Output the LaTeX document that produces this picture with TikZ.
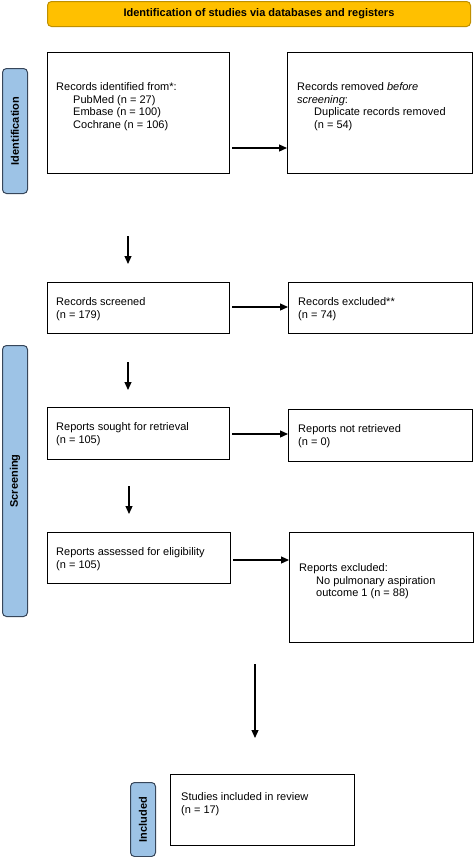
\documentclass[tikz,border=0pt]{standalone}
\usepackage{fontspec}
\setmainfont{Liberation Sans}
\usetikzlibrary{arrows.meta}
\definecolor{hdrfill}{RGB}{255,192,0}
\definecolor{hdrline}{RGB}{191,144,0}
\definecolor{labfill}{RGB}{157,195,230}
\definecolor{labline}{RGB}{55,70,90}
\tikzset{
  box/.style={draw=black, line width=1.1pt, inner sep=0pt, anchor=north west},
  txt/.style={inner sep=0pt, anchor=north west, align=left, font=\fontsize{11}{12.9}\selectfont},
  hdr/.style={draw=hdrline, fill=hdrfill, line width=1pt, rounded corners=4pt, inner sep=0pt, anchor=north west, font=\bfseries\fontsize{11}{13}\selectfont},
  lab/.style={draw=labline, fill=labfill, line width=1pt, rounded corners=4pt, inner sep=0pt, anchor=north west},
  labtxt/.style={rotate=90, font=\bfseries\fontsize{11}{13}\selectfont, inner sep=0pt},
  arr/.style={line width=1.2pt, -{Triangle[length=8pt,width=7pt]}}
}
\newcommand{\ind}{\hspace*{17pt}}
\begin{document}
\begin{tikzpicture}[x=1pt,y=-1pt]
\useasboundingbox (0,0) rectangle (474,857);
% header
\node[hdr, minimum width=423pt, minimum height=25pt] (hdr) at (47,1) {};
\node[font=\bfseries\fontsize{11}{13}\selectfont, inner sep=0pt] (hdrt) at (hdr.center) {Identification of studies via databases and registers};
% side labels
\node[lab, minimum width=25pt, minimum height=125pt] (lab1) at (2,68) {};
\node[labtxt] (lab1t) at (lab1.center) {Identification};
\node[lab, minimum width=25pt, minimum height=271pt] (lab2) at (2,345) {};
\node[labtxt] (lab2t) at (lab2.center) {Screening};
\node[lab, minimum width=25pt, minimum height=74pt] (lab3) at (130,782) {};
\node[labtxt] (lab3t) at (lab3.center) {Included};
% boxes
\node[box, minimum width=182pt, minimum height=121pt] (b1) at (47,52) {};
\node[box, minimum width=185pt, minimum height=121pt] (b2) at (287,52) {};
\node[box, minimum width=182pt, minimum height=51pt] (b3) at (47,282) {};
\node[box, minimum width=184pt, minimum height=51pt] (b4) at (288,282) {};
\node[box, minimum width=182pt, minimum height=52pt] (b5) at (47,407) {};
\node[box, minimum width=184pt, minimum height=52pt] (b6) at (288,409) {};
\node[box, minimum width=183pt, minimum height=51pt] (b7) at (47,532) {};
\node[box, minimum width=184pt, minimum height=110pt] (b8) at (289,532) {};
\node[box, minimum width=184pt, minimum height=71pt] (b9) at (170,774) {};
% texts
\node[txt] (t1) at (56,82) {Records identified from*:\\\ind PubMed (n = 27)\\\ind Embase (n = 100)\\\ind Cochrane (n = 106)};
\node[txt] (t2) at (297,82) {Records removed \textit{before}\\\textit{screening}:\\\ind Duplicate records removed\\\ind (n = 54)};
\node[txt] (t3) at (56,297) {Records screened\\(n = 179)};
\node[txt] (t4) at (298,297) {Records excluded**\\(n = 74)};
\node[txt] (t5) at (56,422) {Reports sought for retrieval\\(n = 105)};
\node[txt] (t6) at (298,424) {Reports not retrieved\\(n = 0)};
\node[txt] (t7) at (56,547) {Reports assessed for eligibility\\(n = 105)};
\node[txt] (t8) at (299,563) {Reports excluded:\\\ind No pulmonary aspiration\\\ind outcome 1 (n = 88)};
\node[txt] (t9) at (181,792) {Studies included in review\\(n = 17)};
% horizontal arrows
\draw[arr] ([xshift=2pt]b1.east |- 0,148) -- (b2.west |- 0,148);
\draw[arr] ([xshift=2pt]b3.east |- 0,307) -- (b4.west |- 0,307);
\draw[arr] ([xshift=2pt]b5.east |- 0,434) -- (b6.west |- 0,434);
\draw[arr] ([xshift=2pt]b7.east |- 0,560) -- (b8.west |- 0,560);
% vertical arrows
\coordinate (v1a) at (128,236); \coordinate (v1b) at (128,264);
\coordinate (v2a) at (128,362); \coordinate (v2b) at (128,390);
\coordinate (v3a) at (129,486); \coordinate (v3b) at (129,514);
\coordinate (v4a) at (255,664); \coordinate (v4b) at (255,738);
\draw[arr] (v1a) -- (v1b);
\draw[arr] (v2a) -- (v2b);
\draw[arr] (v3a) -- (v3b);
\draw[arr] (v4a) -- (v4b);
\end{tikzpicture}
\end{document}
